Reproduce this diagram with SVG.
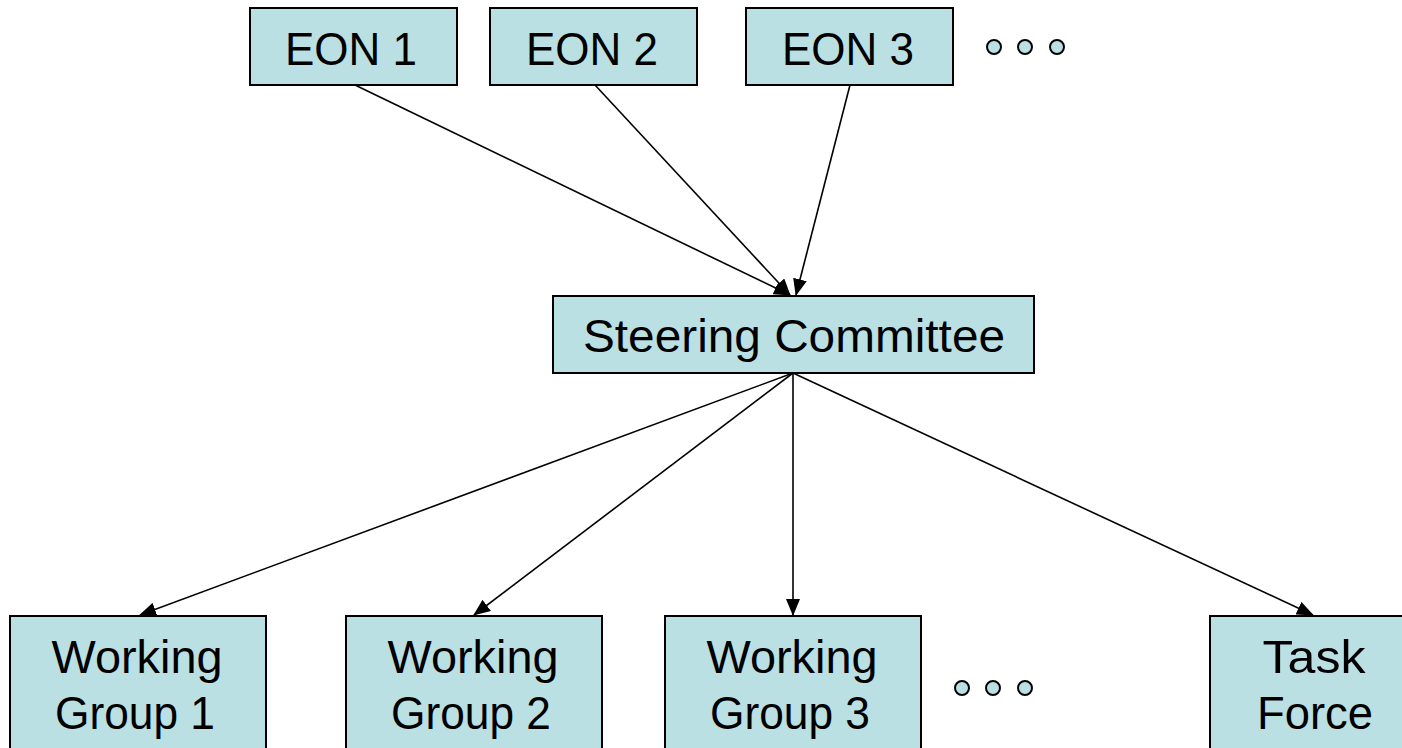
<svg xmlns="http://www.w3.org/2000/svg" width="1402" height="748" viewBox="0 0 1402 748">
<style>
.box{fill:#BBE0E3;stroke:#000;stroke-width:2}
.lbl{font-family:"Liberation Sans",Arial,sans-serif;font-size:46px;fill:#000;text-anchor:middle}
.dot{fill:#BBE0E3;stroke:#000;stroke-width:2}
.edge{stroke:#000;stroke-width:1.6;fill:none;marker-end:url(#ah)}
</style>
<defs>
<marker id="ah" markerWidth="18" markerHeight="14" refX="16" refY="7" orient="auto" markerUnits="userSpaceOnUse">
<path d="M0,0 L17,7 L0,14 Z" fill="#000"/>
</marker>
</defs>
<rect width="1402" height="748" fill="#fff"/>
<g id="connectors">
<line class="edge" x1="355" y1="85" x2="790" y2="295"/>
<line class="edge" x1="595" y1="85" x2="790" y2="295"/>
<line class="edge" x1="850" y1="85" x2="796" y2="295"/>
<line class="edge" x1="793" y1="373" x2="140" y2="615"/>
<line class="edge" x1="793" y1="373" x2="474" y2="615"/>
<line class="edge" x1="793" y1="373" x2="793" y2="615"/>
<line class="edge" x1="793" y1="373" x2="1313" y2="615"/>
</g>
<g id="eon1"><rect class="box" x="250" y="8" width="207" height="77"/><text class="lbl" x="351" y="65" textLength="132" lengthAdjust="spacingAndGlyphs">EON 1</text></g>
<g id="eon2"><rect class="box" x="490" y="8" width="207" height="77"/><text class="lbl" x="592" y="65" textLength="132" lengthAdjust="spacingAndGlyphs">EON 2</text></g>
<g id="eon3"><rect class="box" x="746" y="8" width="207" height="77"/><text class="lbl" x="848" y="65" textLength="132" lengthAdjust="spacingAndGlyphs">EON 3</text></g>
<g id="dots-top">
<circle class="dot" cx="994" cy="47" r="7"/>
<circle class="dot" cx="1025" cy="47" r="7"/>
<circle class="dot" cx="1057" cy="47" r="7"/>
</g>
<g id="steering"><rect class="box" x="553" y="296" width="481" height="77"/><text class="lbl" x="794" y="352" textLength="422" lengthAdjust="spacingAndGlyphs">Steering Committee</text></g>
<g id="wg1"><rect class="box" x="10" y="616" width="256" height="140"/><text class="lbl" x="137" y="673" textLength="171" lengthAdjust="spacingAndGlyphs">Working</text><text class="lbl" x="135" y="729" textLength="160" lengthAdjust="spacingAndGlyphs">Group 1</text></g>
<g id="wg2"><rect class="box" x="346" y="616" width="256" height="140"/><text class="lbl" x="473" y="673" textLength="171" lengthAdjust="spacingAndGlyphs">Working</text><text class="lbl" x="471" y="729" textLength="160" lengthAdjust="spacingAndGlyphs">Group 2</text></g>
<g id="wg3"><rect class="box" x="665" y="616" width="256" height="140"/><text class="lbl" x="792" y="673" textLength="171" lengthAdjust="spacingAndGlyphs">Working</text><text class="lbl" x="790" y="729" textLength="160" lengthAdjust="spacingAndGlyphs">Group 3</text></g>
<g id="dots-bottom">
<circle class="dot" cx="962" cy="688" r="7"/>
<circle class="dot" cx="993" cy="688" r="7"/>
<circle class="dot" cx="1025" cy="688" r="7"/>
</g>
<g id="taskforce"><rect class="box" x="1210" y="616" width="210" height="140"/><text class="lbl" x="1314" y="673" textLength="103" lengthAdjust="spacingAndGlyphs">Task</text><text class="lbl" x="1315" y="729" textLength="116" lengthAdjust="spacingAndGlyphs">Force</text></g>
</svg>
